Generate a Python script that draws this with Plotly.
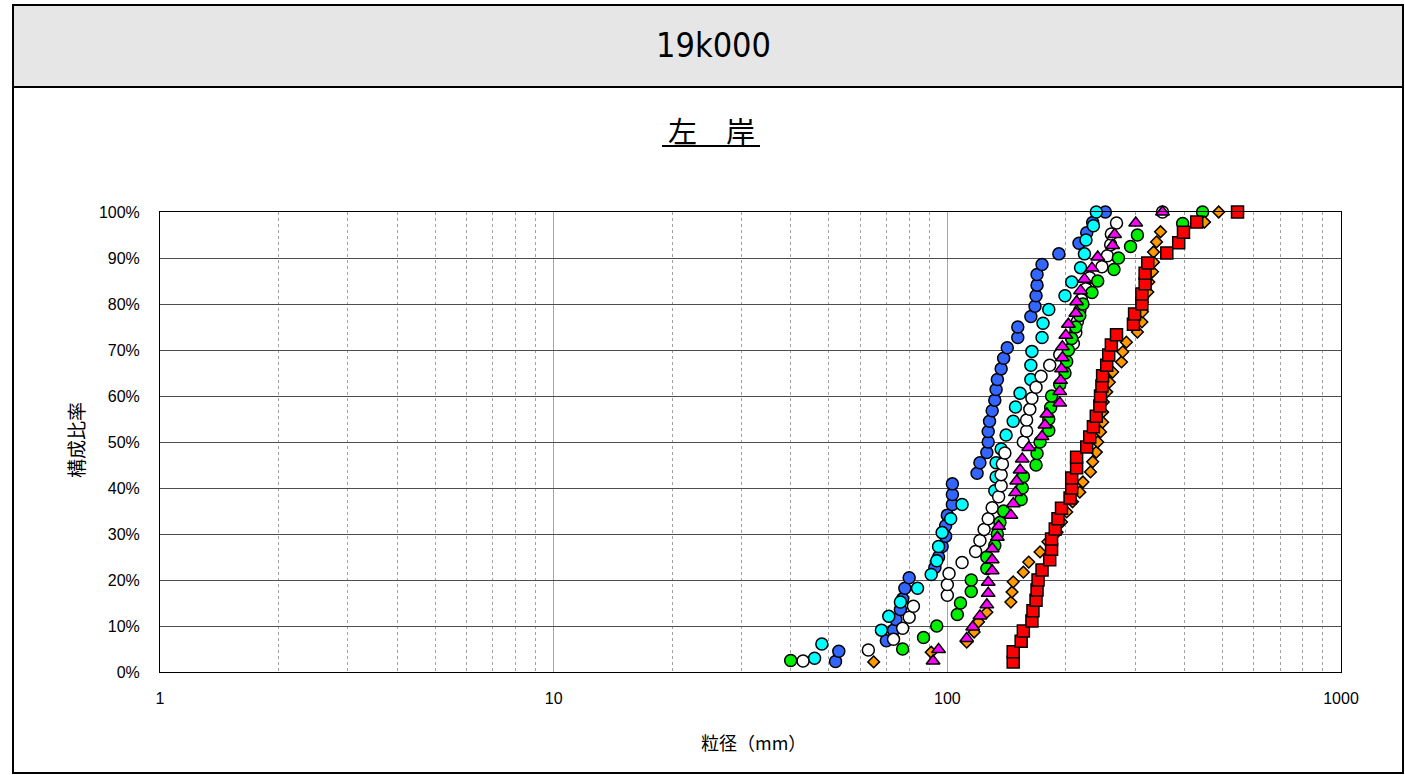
import plotly.graph_objects as go

# ---------------- data (grain size mm, cumulative %) ----------------
blue_mm = [52, 53, 70, 73, 74, 76, 77, 78, 80, 93, 95, 97, 99, 99, 100, 103, 103, 103, 119, 121,
           126, 127, 127, 128, 130, 132, 133, 134, 137, 139, 142, 151, 151, 163, 167, 168, 169, 169,
           174, 192, 216, 226, 234, 252]
blue_pct = [2.3, 4.5, 6.8, 9.1, 11.4, 13.6, 15.9, 18.2, 20.5, 22.7, 25.0, 27.3, 29.5, 31.8, 34.1,
            36.4, 38.6, 40.9, 43.2, 45.5, 47.7, 50.0, 52.3, 54.5, 56.8, 59.1, 61.4, 63.6, 65.9,
            68.2, 70.5, 72.7, 75.0, 77.3, 79.5, 81.8, 84.1, 86.4, 88.6, 90.9, 93.2, 95.5, 97.7, 100.0]

cyan_mm = [46, 48, 68, 71, 76, 84, 91, 94, 95, 97, 102, 109, 132, 133, 133, 137, 141, 147, 149,
           153, 163, 163, 164, 174, 175, 181, 199, 207, 218, 223, 225, 235, 239]
cyan_pct = [3.0, 6.1, 9.1, 12.1, 15.2, 18.2, 21.2, 24.2, 27.3, 30.3, 33.3, 36.4, 39.4, 42.4, 45.5,
            48.5, 51.5, 54.5, 57.6, 60.6, 63.6, 66.7, 69.7, 72.7, 75.8, 78.8, 81.8, 84.8, 87.9,
            90.9, 93.9, 97.0, 100.0]

white_mm = [43, 63, 73, 77, 80, 82, 100, 100, 101, 109, 118, 121, 124, 127, 130, 135, 137, 137,
            138, 140, 156, 159, 159, 162, 164, 168, 173, 182, 193, 209, 212, 214, 217, 219, 225,
            230, 247, 255, 260, 261, 269, 352]
white_pct = [2.4, 4.8, 7.1, 9.5, 11.9, 14.3, 16.7, 19.0, 21.4, 23.8, 26.2, 28.6, 31.0, 33.3, 35.7,
             38.1, 40.5, 42.9, 45.2, 47.6, 50.0, 52.4, 54.8, 57.1, 59.5, 61.9, 64.3, 66.7, 69.0,
             71.4, 73.8, 76.2, 78.6, 81.0, 83.3, 85.7, 88.1, 90.5, 92.9, 95.2, 97.6, 100.0]

green_mm = [40, 77, 87, 94, 106, 108, 115, 115, 126, 126, 132, 134, 136, 139, 154, 155, 156, 168,
            169, 172, 181, 181, 183, 184, 193, 199, 201, 203, 207, 212, 217, 221, 233, 241, 265,
            272, 292, 304, 396, 445]
green_pct = [2.5, 5.0, 7.5, 10.0, 12.5, 15.0, 17.5, 20.0, 22.5, 25.0, 27.5, 30.0, 32.5, 35.0, 37.5,
             40.0, 42.5, 45.0, 47.5, 50.0, 52.5, 55.0, 57.5, 60.0, 62.5, 65.0, 67.5, 70.0, 72.5,
             75.0, 77.5, 80.0, 82.5, 85.0, 87.5, 90.0, 92.5, 95.0, 97.5, 100.0]

orange_mm = [65, 91, 112, 117, 120, 126, 145, 146, 147, 156, 161, 172, 180, 190, 195, 201, 208,
             217, 221, 231, 234, 239, 241, 245, 248, 248, 249, 254, 258, 263, 277, 279, 285, 304,
             312, 313, 313, 323, 325, 332, 334, 334, 340, 348, 450, 489]
orange_pct = [2.2, 4.3, 6.5, 8.7, 10.9, 13.0, 15.2, 17.4, 19.6, 21.7, 23.9, 26.1, 28.3, 30.4, 32.6,
              34.8, 37.0, 39.1, 41.3, 43.5, 45.7, 47.8, 50.0, 52.2, 54.3, 56.5, 58.7, 60.9, 63.0,
              65.2, 67.4, 69.6, 71.7, 73.9, 76.1, 78.3, 80.4, 82.6, 84.8, 87.0, 89.1, 91.3, 93.5,
              95.7, 97.8, 100.0]

magenta_mm = [92, 95, 112, 116, 121, 126, 127, 127, 130, 130, 130, 134, 135, 145, 147, 149, 150,
              153, 155, 161, 174, 177, 179, 193, 193, 194, 195, 196, 196, 200, 203, 212, 213, 218,
              223, 233, 241, 263, 266, 301, 352]
magenta_pct = [2.4, 4.9, 7.3, 9.8, 12.2, 14.6, 17.1, 19.5, 22.0, 24.4, 26.8, 29.3, 31.7, 34.1,
               36.6, 39.0, 41.5, 43.9, 46.3, 48.8, 51.2, 53.7, 56.1, 58.5, 61.0, 63.4, 65.9, 68.3,
               70.7, 73.2, 75.6, 78.0, 80.5, 82.9, 85.4, 87.8, 90.2, 92.7, 95.1, 97.6, 100.0]

red_mm = [147, 147, 154, 156, 164, 165, 168, 169, 170, 174, 182, 184, 184, 188, 191, 195, 205, 207,
          207, 213, 213, 226, 230, 235, 239, 244, 245, 247, 248, 254, 257, 261, 269, 297, 299, 312,
          312, 318, 318, 323, 361, 387, 398, 430, 546]
red_pct = [2.2, 4.4, 6.7, 8.9, 11.1, 13.3, 15.6, 17.8, 20.0, 22.2, 24.4, 26.7, 28.9, 31.1, 33.3,
           35.6, 37.8, 40.0, 42.2, 44.4, 46.7, 48.9, 51.1, 53.3, 55.6, 57.8, 60.0, 62.2, 64.4,
           66.7, 68.9, 71.1, 73.3, 75.6, 77.8, 80.0, 82.2, 84.4, 86.7, 88.9, 91.1, 93.3, 95.6,
           97.8, 100.0]

x_ticks = [1, 10, 100, 1000]
x_tick_text = ["1", "10", "100", "1000"]
y_ticks = [0, 10, 20, 30, 40, 50, 60, 70, 80, 90, 100]
y_tick_text = ["0%", "10%", "20%", "30%", "40%", "50%", "60%", "70%", "80%", "90%", "100%"]
minor_vals = [2, 3, 4, 5, 6, 7, 8, 9, 20, 30, 40, 50, 60, 70, 80, 90,
              200, 300, 400, 500, 600, 700, 800, 900]

title_text = "19k000"
subtitle_text = "左　岸"
x_title = "粒径（mm）"
y_title = "構成比率"

# ---------------- layout helpers ----------------
W, H = 1405, 775
L, R, T, B = 160, 1341, 212, 672


def pxx(x):
    return (x - L) / (R - L)


def pxy(y):
    return (B - y) / (B - T)


series = [
    (blue_mm, blue_pct, "circle", "#3366FF", 12),
    (cyan_mm, cyan_pct, "circle", "#00FFFF", 12),
    (white_mm, white_pct, "circle", "#FFFFFF", 12),
    (green_mm, green_pct, "circle", "#00EE00", 12),
    (orange_mm, orange_pct, "diamond", "#FF9900", 9),
    (magenta_mm, magenta_pct, "triangle-up", "#FF00FF", 12),
    (red_mm, red_pct, "square", "#FF0000", 12),
]

fig = go.Figure()
for xs, ys, sym, col, sz in series:
    fig.add_trace(go.Scatter(
        x=xs, y=ys, mode="markers", cliponaxis=False,
        marker=dict(symbol=sym, color=col, size=sz, line=dict(color="#000000", width=1.5)),
        showlegend=False, hoverinfo="x+y"))

font_lat = "Liberation Sans, Arial, Noto Sans CJK JP, sans-serif"
font_cjk = "Noto Sans CJK JP, sans-serif"

fig.update_layout(
    width=W, height=H,
    margin=dict(l=L, r=W - R, t=T, b=H - B, pad=0),
    paper_bgcolor="#FFFFFF", plot_bgcolor="#FFFFFF",
    font=dict(family=font_lat, size=16, color="#000000"),
    xaxis=dict(
        type="log", range=[0, 3], tickmode="array", tickvals=x_ticks, ticktext=x_tick_text,
        showgrid=True, gridcolor="#A6A6A6", gridwidth=1,
        showline=True, linecolor="#000000", linewidth=1, mirror=True,
        ticks="", ticklabelstandoff=12, zeroline=False,
        tickfont=dict(size=16, family=font_lat),
        minor=dict(tickmode="array", tickvals=minor_vals, showgrid=True,
                   gridcolor="#A0A0A0", griddash="dot", gridwidth=1, ticks=""),
    ),
    yaxis=dict(
        range=[0, 100], tickmode="array", tickvals=y_ticks, ticktext=y_tick_text,
        showgrid=True, gridcolor="#4D4D4D", gridwidth=1,
        showline=True, linecolor="#000000", linewidth=1, mirror=True,
        ticks="", ticklabelstandoff=16, zeroline=False,
        tickfont=dict(size=16, family=font_lat),
    ),
    shapes=[
        # outer frame
        dict(type="rect", xref="paper", yref="paper",
             x0=pxx(13), x1=pxx(1403), y0=pxy(773), y1=pxy(5),
             line=dict(color="#000000", width=2), fillcolor="rgba(0,0,0,0)", layer="below"),
        # header band
        dict(type="rect", xref="paper", yref="paper",
             x0=pxx(13), x1=pxx(1403), y0=pxy(87), y1=pxy(5),
             line=dict(color="#000000", width=2), fillcolor="#E6E6E6", layer="below"),
        # subtitle underline
        dict(type="line", xref="paper", yref="paper",
             x0=pxx(662), x1=pxx(760), y0=pxy(146), y1=pxy(146),
             line=dict(color="#000000", width=2)),
    ],
    annotations=[
        dict(text=title_text, xref="paper", yref="paper", x=pxx(713), y=pxy(45),
             showarrow=False, xanchor="center", yanchor="middle",
             font=dict(family="DejaVu Sans Condensed, Liberation Sans Narrow, Roboto, sans-serif",
                       size=34, color="#000000")),
        dict(text=subtitle_text, xref="paper", yref="paper", x=pxx(711), y=pxy(130),
             showarrow=False, xanchor="center", yanchor="middle",
             font=dict(family=font_cjk, size=29, color="#000000")),
        dict(text=x_title, xref="paper", yref="paper", x=pxx(753), y=pxy(742),
             showarrow=False, xanchor="center", yanchor="middle",
             font=dict(family=font_cjk, size=18, color="#000000")),
        dict(text=y_title, xref="paper", yref="paper", x=pxx(75), y=pxy(440),
             showarrow=False, xanchor="center", yanchor="middle", textangle=-90,
             font=dict(family=font_cjk, size=19, color="#000000")),
    ],
)

fig.write_html("out.html", config={"displayModeBar": False},
               post_script="document.body.style.margin='0px';")
